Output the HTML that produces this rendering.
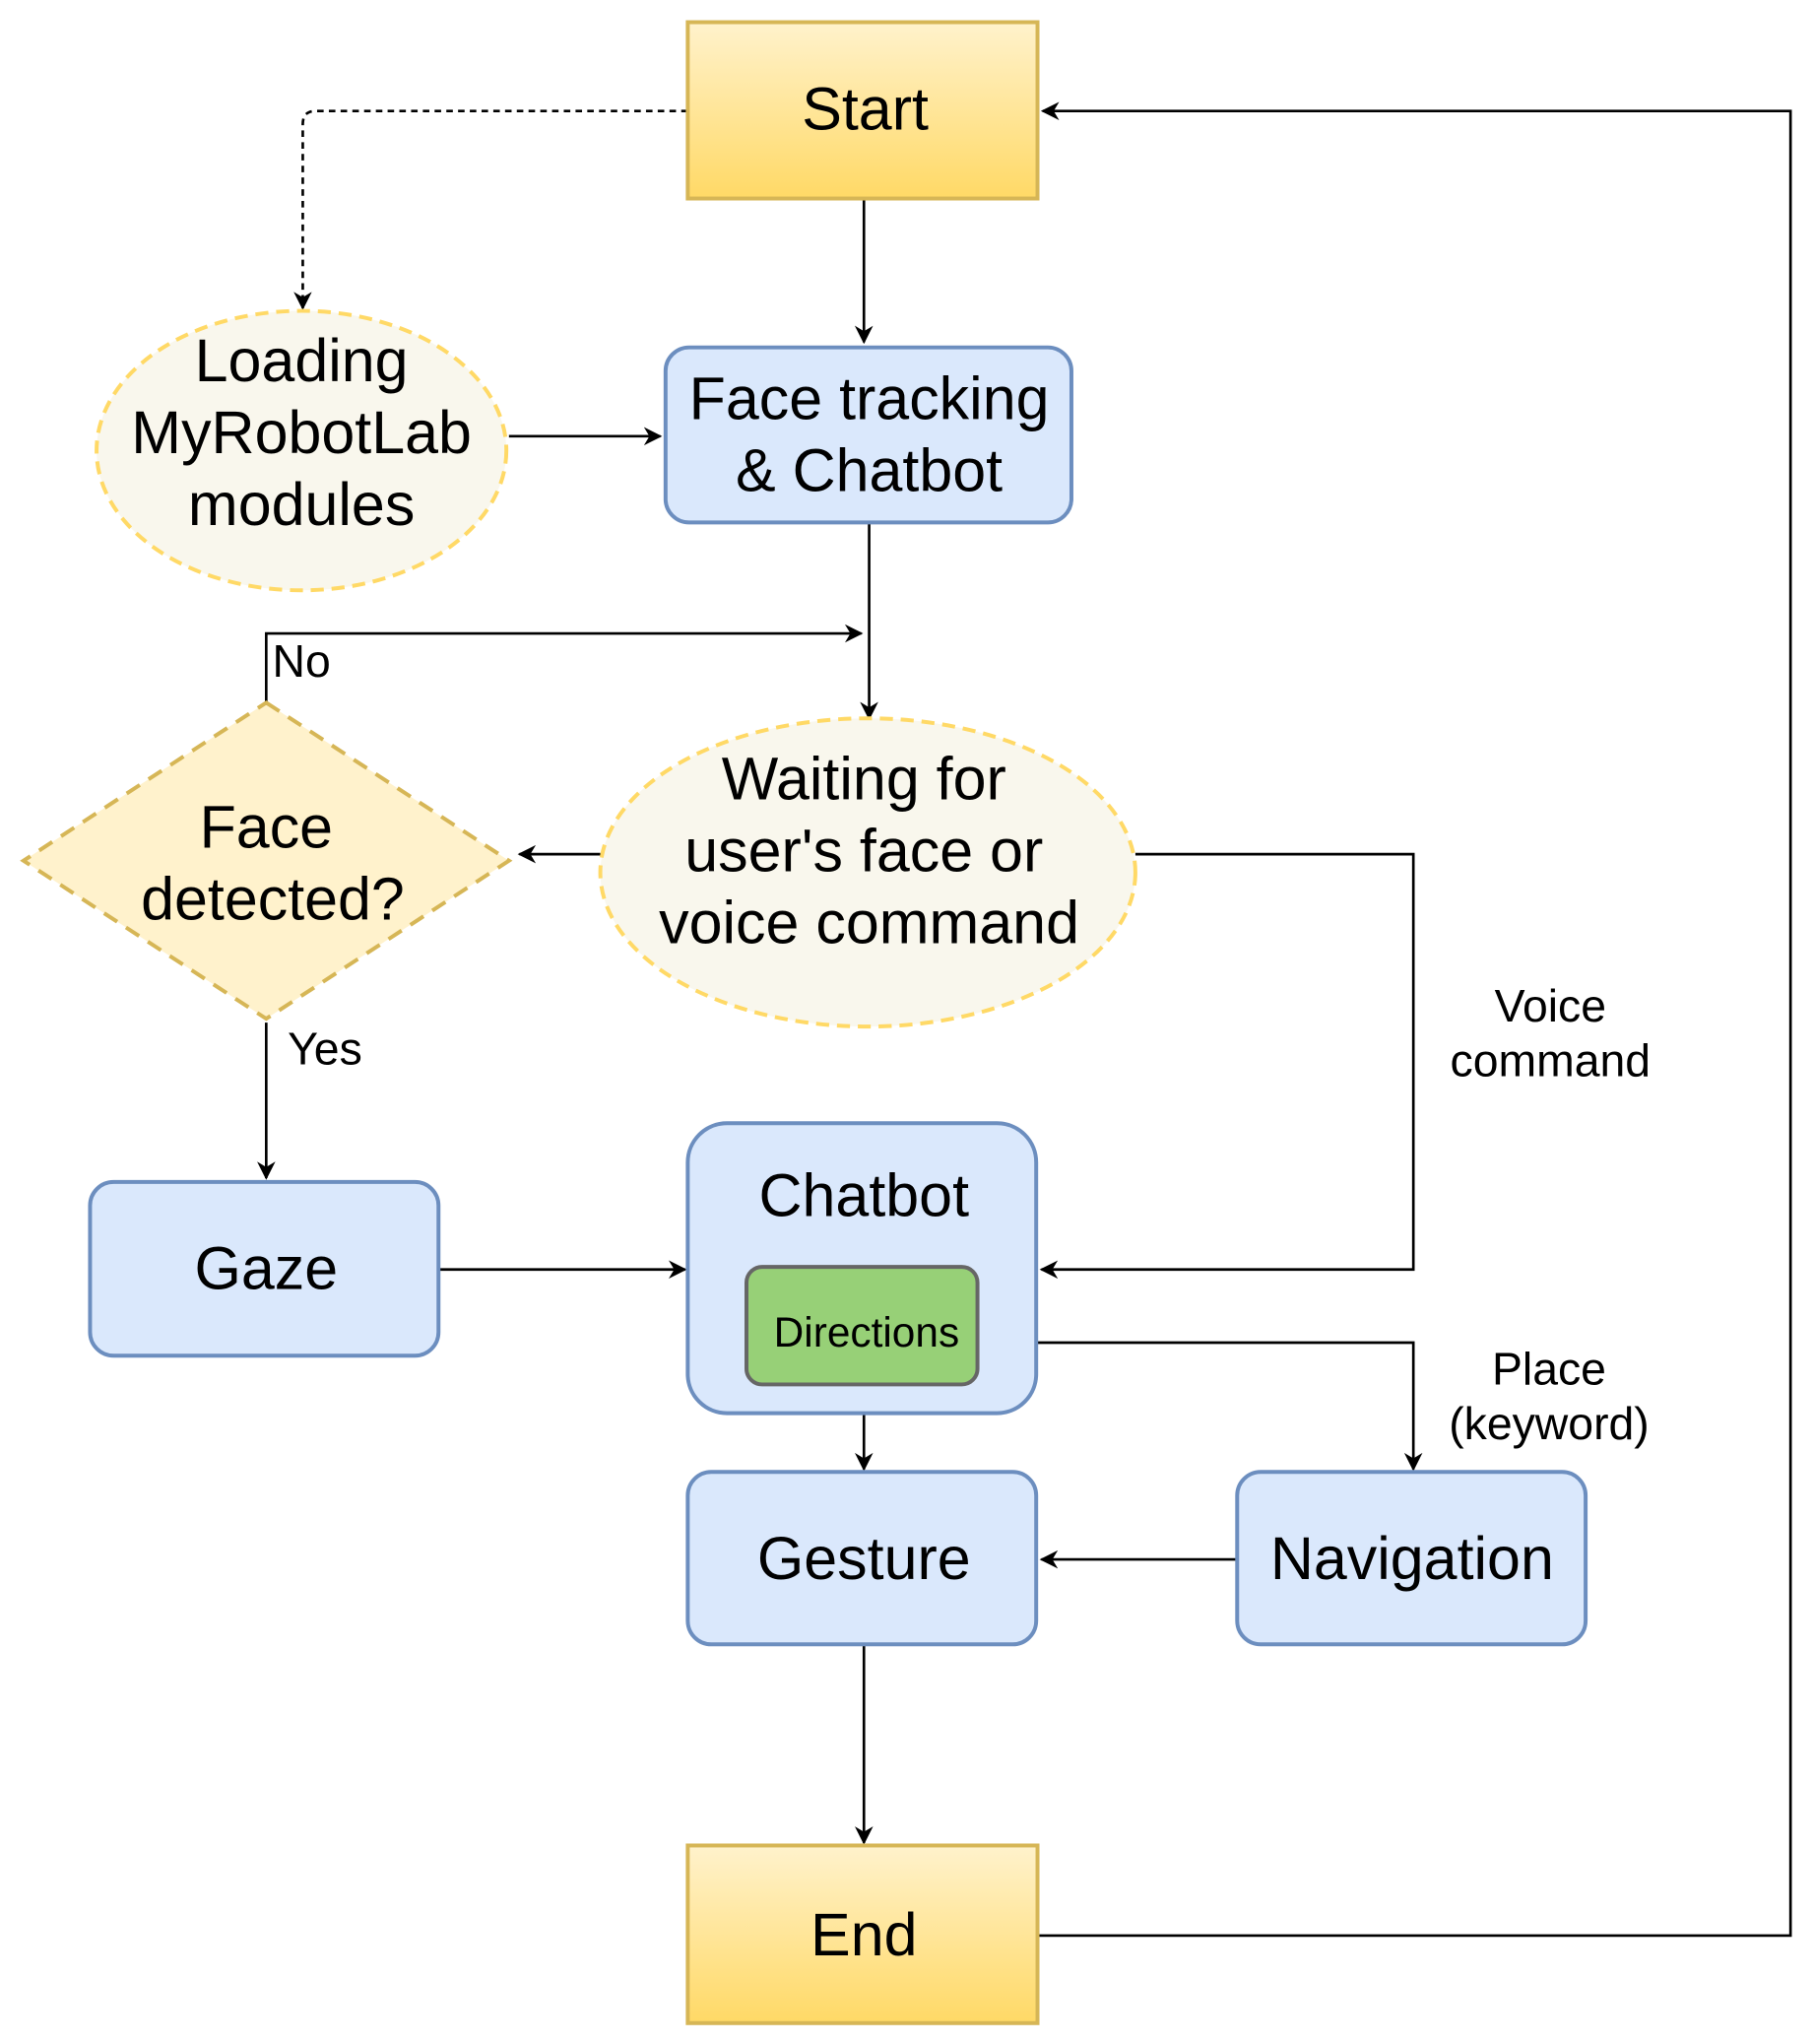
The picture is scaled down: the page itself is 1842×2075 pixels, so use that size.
<!DOCTYPE html>
<html><head><meta charset="utf-8"><style>
html,body{margin:0;padding:0;background:#fff;}
svg{display:block;}
text{font-family:"Liberation Sans",Arial,sans-serif;fill:#000;}
</style></head><body>
<svg width="1842" height="2075" viewBox="0 0 1390 1565" preserveAspectRatio="none" xmlns="http://www.w3.org/2000/svg">
<defs>
<linearGradient id="yg" x1="0" y1="0" x2="0" y2="1"><stop offset="0" stop-color="#fff2cc"/><stop offset="1" stop-color="#ffd966"/></linearGradient>
<marker id="a" viewBox="0 0 10 10" refX="9" refY="5" markerWidth="7" markerHeight="7" orient="auto"><path d="M0,0 L10,5 L0,10 L3,5 z" fill="#000"/></marker>
</defs>
<g fill="none" stroke="#000" stroke-width="2" marker-end="url(#a)">
<path d="M527,85 H242 Q232,85 232,95 V236" stroke-dasharray="5,4"/>
<path d="M662,152 V262"/>
<path d="M795,1482 H1372 V85 H799"/>
<path d="M390,334 H506"/>
<path d="M666,400 V550"/>
<path d="M204,538 V485 H660"/>
<path d="M460,654 H398"/>
<path d="M870,654 H1083 V972 H798"/>
<path d="M204,783 V902"/>
<path d="M336,972 H525"/>
<path d="M794,1028 H1083 V1125"/>
<path d="M662,1060 V1125"/>
<path d="M948,1194 H798"/>
<path d="M662,1259 V1411"/>
</g>
<rect x="527" y="17" width="268" height="135" fill="url(#yg)" stroke="#d6b656" stroke-width="3"/>
<rect x="527" y="1413" width="268" height="136" fill="url(#yg)" stroke="#d6b656" stroke-width="3"/>
<ellipse cx="231" cy="345" rx="157" ry="107" fill="#f9f7ed" stroke="#ffd966" stroke-width="3" stroke-dasharray="10,6"/>
<ellipse cx="665" cy="668" rx="205" ry="118" fill="#f9f7ed" stroke="#ffd966" stroke-width="3" stroke-dasharray="10,6"/>
<polygon points="204,538 390,659 204,780 18,659" fill="#fff2cc" stroke="#d6b656" stroke-width="3" stroke-dasharray="12,8"/>
<rect x="510" y="266" width="311" height="134" rx="18" fill="#dae8fc" stroke="#6c8ebf" stroke-width="3"/>
<rect x="69" y="905" width="267" height="133" rx="18" fill="#dae8fc" stroke="#6c8ebf" stroke-width="3"/>
<rect x="527" y="860" width="267" height="222" rx="30" fill="#dae8fc" stroke="#6c8ebf" stroke-width="3"/>
<rect x="572" y="970" width="177" height="90" rx="12" fill="#97d077" stroke="#666" stroke-width="3"/>
<rect x="527" y="1127" width="267" height="132" rx="18" fill="#dae8fc" stroke="#6c8ebf" stroke-width="3"/>
<rect x="948" y="1127" width="267" height="132" rx="18" fill="#dae8fc" stroke="#6c8ebf" stroke-width="3"/>
<g text-anchor="middle" font-size="46">
<text x="663" y="99">Start</text>
<text x="662" y="1497">End</text>
<text x="204" y="987">Gaze</text>
<text x="662" y="931">Chatbot</text>
<text x="662" y="1209">Gesture</text>
<text x="1082" y="1209">Navigation</text>
</g>
<g text-anchor="middle" font-size="46">
<text x="666" y="321">Face tracking</text>
<text x="666" y="376">&amp; Chatbot</text>
<text x="231" y="292">Loading</text>
<text x="231" y="347">MyRobotLab</text>
<text x="231" y="402">modules</text>
<text x="662" y="612">Waiting for</text>
<text x="662" y="667">user's face or</text>
<text x="666" y="722">voice command</text>
<text x="204" y="649">Face</text>
<text x="209" y="704">detected?</text>
</g>
<text x="664" y="1031" text-anchor="middle" font-size="32">Directions</text>
<g font-size="35" text-anchor="middle">
<text x="231" y="518">No</text>
<text x="249" y="815">Yes</text>
<text x="1188" y="782">Voice</text>
<text x="1188" y="824">command</text>
<text x="1187" y="1060">Place</text>
<text x="1187" y="1102">(keyword)</text>
</g>
</svg>
</body></html>
